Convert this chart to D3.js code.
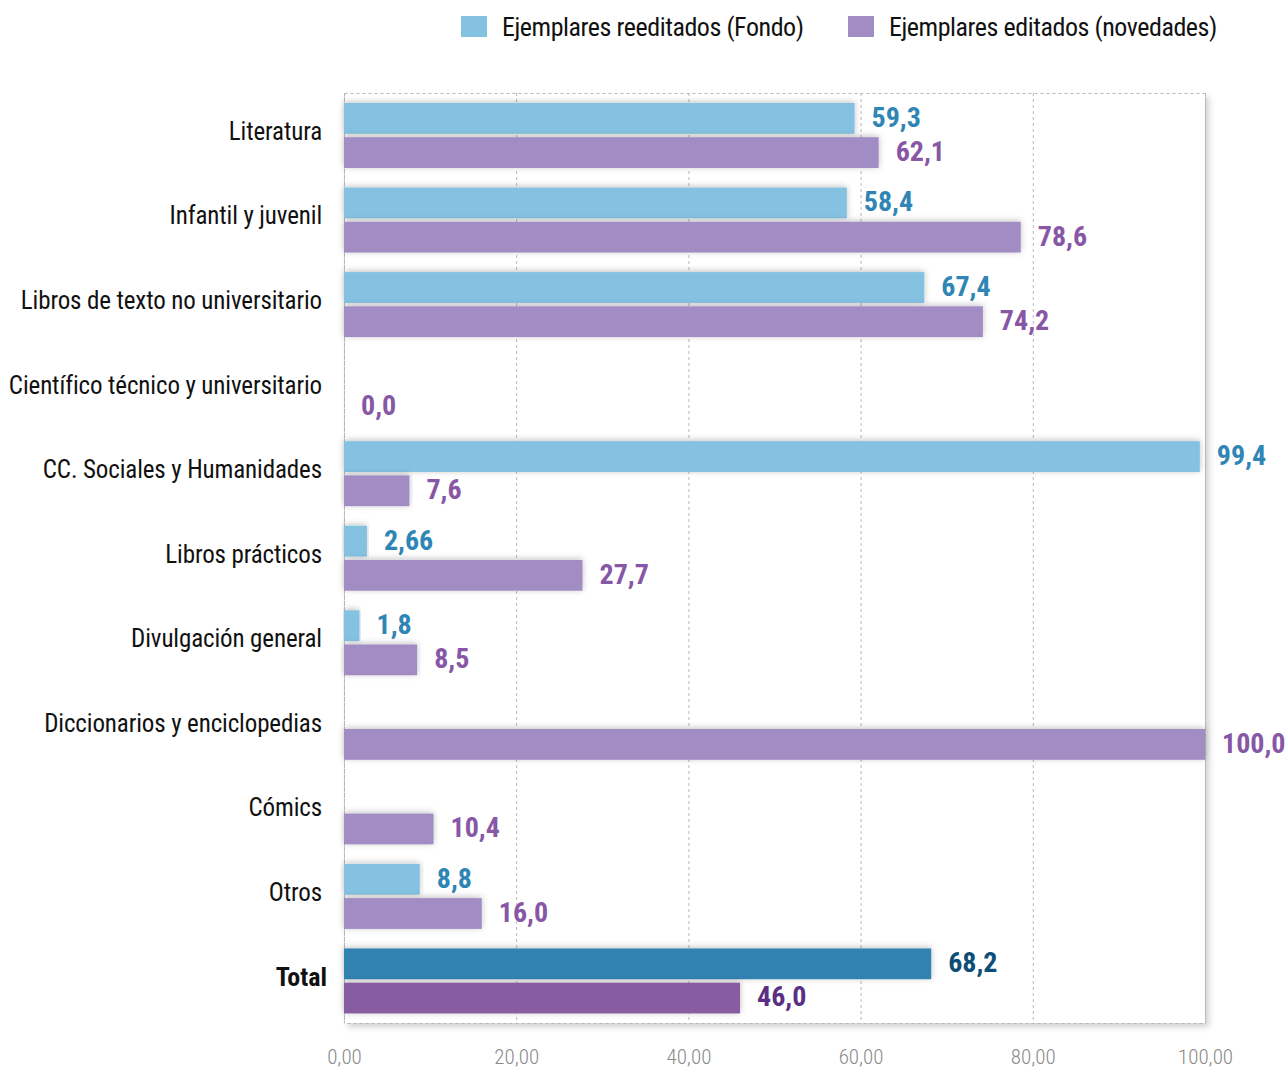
<!DOCTYPE html>
<html><head><meta charset="utf-8">
<script src="https://cdn.jsdelivr.net/npm/d3@7"></script>
<style>
body{margin:0;background:#fff;}
svg{display:block;}
text{font-family:"Roboto Condensed","DejaVu Sans Condensed","Liberation Sans Narrow",Roboto,sans-serif;font-stretch:condensed;}
</style></head>
<body>
<svg id="chart" width="1287" height="1068"></svg>
<script>
const categories = ["Literatura","Infantil y juvenil","Libros de texto no universitario","Científico técnico y universitario","CC. Sociales y Humanidades","Libros prácticos","Divulgación general","Diccionarios y enciclopedias","Cómics","Otros","Total"];
const fondo = [59.3, 58.4, 67.4, null, 99.4, 2.66, 1.8, null, null, 8.8, 68.2];
const novedades = [62.1, 78.6, 74.2, 0.0, 7.6, 27.7, 8.5, 100.0, 10.4, 16.0, 46.0];
const seriesNames = ["Ejemplares reeditados (Fondo)","Ejemplares editados (novedades)"];
const tickValues = [0,20,40,60,80,100];

const svg = d3.select("#chart");
const defs = svg.append("defs");
const f1 = defs.append("filter").attr("id","barShadow").attr("x","-5%").attr("y","-40%").attr("width","110%").attr("height","180%");
f1.append("feDropShadow").attr("dx",0).attr("dy",-1).attr("stdDeviation",3).attr("flood-color","#000").attr("flood-opacity",0.25);
const f2 = defs.append("filter").attr("id","frameShadow").attr("x","-5%").attr("y","-5%").attr("width","110%").attr("height","110%");
f2.append("feDropShadow").attr("dx",4).attr("dy",4).attr("stdDeviation",3).attr("flood-color","#000").attr("flood-opacity",0.18);

const x = d3.scaleLinear().domain([0,100]).range([344,1205]);
const y = d3.scaleBand().domain(categories).range([93,1023]);
const sub = d3.scaleBand().domain([0,1]).range([10,75]).paddingInner(0.1);

// frame
svg.append("rect").attr("x",x(0)).attr("y",93).attr("width",x(100)-x(0)).attr("height",1023-93)
  .attr("fill","#fff").attr("filter","url(#frameShadow)");

// grid
svg.append("g").selectAll("line").data(tickValues).join("line")
  .attr("x1",d=>x(d)+0.5).attr("x2",d=>x(d)+0.5).attr("y1",93).attr("y2",1023)
  .attr("stroke","#b8b8b8").attr("stroke-width",1).attr("stroke-dasharray","3,3");
svg.append("rect").attr("x",x(0)+0.5).attr("y",93.5).attr("width",x(100)-x(0)).attr("height",1023-93)
  .attr("fill","none").attr("stroke","#b8b8b8").attr("stroke-dasharray","3,3");

const fmt = v => (Math.round(v*10)===v*10 ? v.toFixed(1) : v.toFixed(2)).replace(".",",");

const rows = categories.map((c,i)=>({c,i,vals:[fondo[i],novedades[i]]}));
const isTotal = c => c==="Total";
const barColor = (s,c) => isTotal(c) ? (s===0?"#3082b1":"#875ca0") : (s===0?"#85c2e2":"#a18dc4");
const labelColor = (s,c) => isTotal(c) ? (s===0?"#0d4e78":"#5a2f84") : (s===0?"#2f86b5":"#8757a6");

const g = svg.append("g");
rows.forEach(r=>{
  r.vals.forEach((v,s)=>{
    if(v===null) return;
    const yy = y(r.c)+sub(s);
    if(v>0){
      g.append("rect").attr("x",x(0)).attr("y",yy).attr("width",x(v)-x(0)).attr("height",sub.bandwidth())
        .attr("fill",barColor(s,r.c)).attr("filter","url(#barShadow)");
    }
    g.append("text").attr("x",x(v)+17).attr("y",yy+sub.bandwidth()/2+1)
      .attr("dominant-baseline","middle").attr("font-size",28).attr("font-weight",700)
      .attr("fill",labelColor(s,r.c)).text(fmt(v));
  });
  svg.append("text").attr("x",isTotal(r.c)?327:322).attr("y",y(r.c)+y.bandwidth()/2-2)
    .attr("text-anchor","end").attr("dominant-baseline","middle")
    .attr("font-size",isTotal(r.c)?26:25).attr("font-weight",isTotal(r.c)?700:400)
    .attr("letter-spacing",isTotal(r.c)?0:-0.12)
    .attr("fill","#111").text(r.c);
});

// axis
const axis = d3.axisBottom(x).tickValues(tickValues).tickSize(0).tickFormat(d=>d.toFixed(2).replace(".",","));
const ax = svg.append("g").attr("transform","translate(0,1046)").call(axis);
ax.select(".domain").remove();
ax.selectAll("text").attr("font-size",21).attr("fill","#8a8a8a").attr("font-weight",300)
  .style("font-family",'"Roboto Condensed","DejaVu Sans Condensed","Liberation Sans Narrow",Roboto,sans-serif');

// legend
const legendColors = ["#85c2e2","#a18dc4"];
const legendX = [461,848];
seriesNames.forEach((n,i)=>{
  svg.append("rect").attr("x",legendX[i]).attr("y",16).attr("width",26).attr("height",21).attr("fill",legendColors[i]);
  svg.append("text").attr("x",legendX[i]+41).attr("y",29).attr("dominant-baseline","middle")
    .attr("font-size",26).attr("letter-spacing",-0.45).attr("fill","#111").text(n);
});
</script>
</body></html>
